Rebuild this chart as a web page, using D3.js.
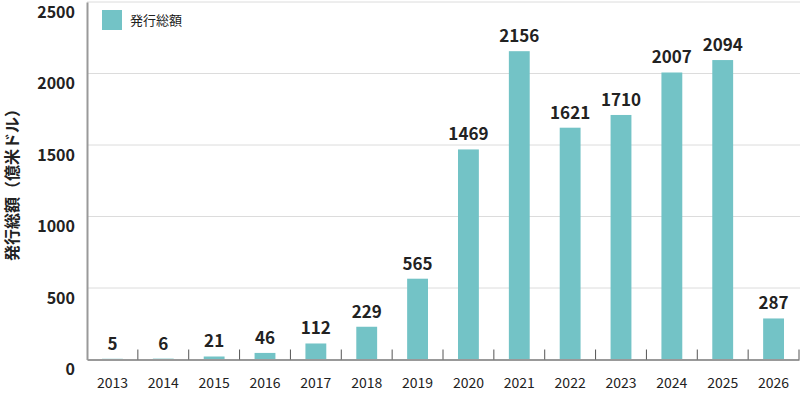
<!DOCTYPE html>
<html><head><meta charset="utf-8">
<script src="https://cdn.jsdelivr.net/npm/d3@7"></script>
<style>body{margin:0;background:#fff}svg{display:block}text{font-family:"Noto Sans CJK JP","Noto Sans",sans-serif}</style>
</head><body><svg id="c" width="800" height="397"></svg>
<script>
const years = ["2013","2014","2015","2016","2017","2018","2019","2020","2021","2022","2023","2024","2025","2026"];
const values = [5,6,21,46,112,229,565,1469,2156,1621,1710,2007,2094,287];
const yTicks = [0,500,1000,1500,2000,2500];
const seriesName = "発行総額";
const yTitle = "発行総額（億米ドル）";

const svg = d3.select("#c");
const m = {l:87, r:799, t:2, b:359.5};
const x = d3.scaleBand().domain(years).range([m.l, m.r]).paddingInner(0.59).paddingOuter(0.295);
const y = d3.scaleLinear().domain([0,2500]).range([m.b, m.t]);
const color = "#73c3c6";

// grid
svg.append("g").selectAll("line").data(yTicks.filter(d=>d>0)).join("line")
  .attr("x1", m.l).attr("x2", m.r+1).attr("y1", d=>y(d)).attr("y2", d=>y(d))
  .attr("stroke", "#dcdcdc").attr("stroke-width", 1);

// bars
svg.append("g").selectAll("rect").data(values).join("rect")
  .attr("x", (d,i)=>x(years[i])).attr("width", x.bandwidth())
  .attr("y", d=>y(d)).attr("height", d=>y(0)-y(d)).attr("fill", color);

// value labels
svg.append("g").selectAll("text").data(values).join("text")
  .attr("x", (d,i)=>x(years[i])+x.bandwidth()/2).attr("y", d=>y(d)-9)
  .attr("text-anchor","middle").attr("font-size",17).attr("font-weight","bold").attr("fill","#222")
  .text(d=>d);

// y axis
const ya = svg.append("g").attr("transform",`translate(${m.l},0)`)
  .call(d3.axisLeft(y).tickValues(yTicks).tickFormat(d3.format("d")).tickSize(0).tickPadding(12));
ya.select(".domain").attr("stroke","#999").attr("stroke-width",2);
ya.selectAll("text").attr("font-size",16).attr("font-weight","bold").attr("fill","#222")
  .attr("dy","0.95em")
  .attr("font-family",'"Noto Sans CJK JP",sans-serif');

// x axis
const xa = svg.append("g").attr("transform",`translate(0,${m.b})`)
  .call(d3.axisBottom(x).tickSize(0).tickPadding(19));
xa.select(".domain").attr("stroke","#999").attr("stroke-width",2);
xa.selectAll("text").attr("font-size",14).attr("fill","#222")
  .attr("font-family",'"Noto Sans CJK JP",sans-serif');
// boundary ticks
const step = x.step();
const bounds = d3.range(years.length+1).map(i=>m.l + i*step);
svg.append("g").selectAll("line").data(bounds.slice(1)).join("line")
  .attr("x1",d=>d).attr("x2",d=>d).attr("y1",m.b-10).attr("y2",m.b)
  .attr("stroke","#555").attr("stroke-width",1);

// legend
svg.append("rect").attr("x",102).attr("y",10).attr("width",20).attr("height",20).attr("fill",color);
svg.append("text").attr("x",130).attr("y",25).attr("font-size",13).attr("fill","#222").text(seriesName);

// y title
svg.append("text").attr("transform","translate(18,181) rotate(-90)")
  .attr("text-anchor","middle").attr("font-size",16).attr("font-weight","bold").attr("fill","#222")
  .text(yTitle);
</script></body></html>
